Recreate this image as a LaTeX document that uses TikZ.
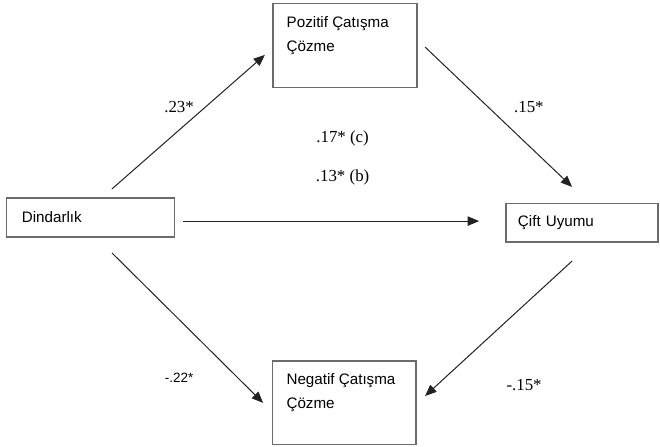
\documentclass[tikz,border=0pt]{standalone}
\usepackage{fontspec}
\setmainfont{Liberation Serif}
\setsansfont{Liberation Sans}
\usepackage{tikz}
\usetikzlibrary{arrows.meta, positioning}
\definecolor{boxgray}{HTML}{6B6B6B}
\definecolor{arrowgray}{HTML}{222222}

\begin{document}
\begin{tikzpicture}
  [
    Box/.style={rectangle, draw=boxgray, line width=1.1pt, inner sep=0pt},
    BoxText/.style={anchor=north west, align=left, inner xsep=0.47cm, inner ysep=0.43cm, font=\sffamily\fontsize{14.4}{22.5}\selectfont},
    Single/.style={Box, align=left, font=\sffamily\fontsize{14.4}{22}\selectfont},
    Coef/.style={font=\fontsize{16}{18}\selectfont},
    CoefSans/.style={font=\sffamily\fontsize{12.8}{15}\selectfont},
    Arr/.style={-{Triangle[length=3.8mm, width=3.1mm]}, draw=arrowgray, line width=0.95pt}
  ]
  \useasboundingbox (0, 0) rectangle (22, 14.9);
  % Boxes
  \node[Box, minimum width=4.8cm, minimum height=2.8cm,
    label={[BoxText]north west:{Pozitif Çatışma\\Çözme}}] (pcc) at (11.5, 13.37) {};
  \node[Box, minimum width=4.77cm, minimum height=2.77cm,
    label={[BoxText]north west:{Negatif Çatışma\\Çözme}}] (ncc) at (11.48, 1.48) {};
  \node[Single, minimum width=5.6cm, minimum height=1.3cm, inner xsep=0.5cm,
    text width=4.6cm] (din) at (3.03, 7.65) {Dindarlık};
  \node[Single, minimum width=5.07cm, minimum height=1.27cm, inner xsep=0.4cm,
    text width=4.27cm] (cift) at (19.4, 7.47) {Çift Uyumu};
  % Arrow ends
  \coordinate (din-up) at (3.73, 8.6);
  \coordinate (pcc-in) at (8.83, 13.07);
  \coordinate (pcc-out) at (14.17, 13.33);
  \coordinate (cift-up) at (19.07, 8.67);
  \coordinate (din-mid) at (6.1, 7.53);
  \coordinate (cift-in) at (15.97, 7.53);
  \coordinate (din-down) at (3.73, 6.47);
  \coordinate (ncc-in) at (8.77, 1.47);
  \coordinate (cift-down) at (19.07, 6.2);
  \coordinate (ncc-out) at (14.17, 1.7);
  % Coefficients
  \node[Coef] (a) at (5.97, 11.33) {.23*};
  \node[Coef] (b) at (17.63, 11.33) {.15*};
  \node[Coef] (c) at (11.42, 10.3) {.17* (c)};
  \node[Coef] (cp) at (11.42, 8.98) {.13* (b)};
  \node[CoefSans] (d) at (5.97, 2.3) {-.22*};
  \node[Coef] (e) at (17.47, 2.07) {-.15*};
  % Lines
  \path [Arr] (din-up) -- (pcc-in);
  \path [Arr] (pcc-out) -- (cift-up);
  \path [Arr] (din-mid) -- (cift-in);
  \path [Arr] (din-down) -- (ncc-in);
  \path [Arr] (cift-down) -- (ncc-out);
\end{tikzpicture}
\end{document}
